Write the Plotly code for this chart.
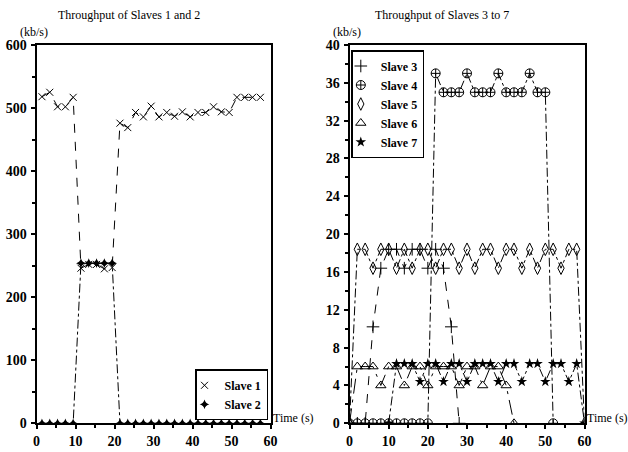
import plotly.graph_objects as go

# ---------------- data ----------------
# Left panel: time (s) and throughput (kb/s)
t_left = [1.4, 3.4, 5.4, 7.4, 9.4, 11.4, 13.4, 15.4, 17.4, 19.4, 21.4, 23.4, 25.4, 27.4, 29.4,
          31.4, 33.4, 35.4, 37.4, 39.4, 41.4, 43.4, 45.4, 47.4, 49.4, 51.4, 53.4, 55.4, 57.4]
slave1 = [518, 525, 502, 502, 517, 246, 252, 252, 245, 247, 476, 469, 493, 486, 503,
          486, 493, 487, 494, 486, 493, 493, 502, 494, 493, 517, 517, 517, 517]
slave2 = [0, 0, 0, 0, 0, 254, 254, 254, 254, 254, 0, 0, 0, 0, 0,
          0, 0, 0, 0, 0, 0, 0, 0, 0, 0, 0, 0, 0, 0]

# Right panel
t_s3 = [0, 2, 4, 6, 8, 10, 12, 14, 16, 18, 20, 22, 24, 26, 28]
slave3 = [0, 0, 0, 10.2, 16.4, 18.4, 18.4, 16.4, 18.4, 18.4, 16.4, 18.4, 16.4, 10.2, 0]

t_s4 = [0, 2, 4, 6, 8, 10, 12, 14, 16, 18, 20, 22, 24, 26, 28, 30, 32, 34, 36, 38, 40,
        42, 44, 46, 48, 50, 52]
slave4 = [0, 0, 0, 0, 0, 0, 0, 0, 0, 0, 0, 37, 35, 35, 35, 37, 35, 35, 35, 37, 35,
          35, 35, 37, 35, 35, 0]

t_s5 = [0, 2, 4, 6, 8, 10, 12, 14, 16, 18, 20, 22, 24, 26, 28, 30, 32, 34, 36, 38, 40,
        42, 44, 46, 48, 50, 52, 54, 56, 58, 60]
slave5 = [0, 18.4, 18.4, 16.4, 18.4, 18.4, 16.4, 18.4, 16.4, 18.4, 18.4, 16.4, 18.4, 18.4,
          16.4, 18.4, 16.4, 18.4, 18.4, 16.4, 18.4, 18.4, 16.4, 18.4, 16.4, 18.4, 18.4,
          16.4, 18.4, 18.4, 0]

t_s6 = [0, 2, 4, 6, 8, 10, 12, 14, 16, 18, 20, 22, 24, 26, 28, 30, 32, 34, 36, 38, 40, 42]
slave6 = [0, 6, 6, 6, 4, 6, 6, 4, 6, 6, 4, 6, 6, 6, 4, 6, 6, 4, 6, 6, 4, 0]

t_s7 = [10, 12, 14, 16, 18, 20, 22, 24, 26, 28, 30, 32, 34, 36, 38, 40, 42, 44, 46, 48,
        50, 52, 54, 56, 58, 60]
slave7 = [0, 6.3, 6.3, 6.3, 4.4, 6.3, 6.3, 4.4, 6.3, 6.3, 4.4, 6.3, 6.3, 6.3, 4.4, 6.3,
          6.3, 4.4, 6.3, 6.3, 4.4, 6.3, 6.3, 4.4, 6.3, 0]

x_ticks = [0, 10, 20, 30, 40, 50, 60]

# ---------------- figure ----------------
W, H = 628, 452
SERIF = "Liberation Serif, Times New Roman, Times, DejaVu Serif, serif"
fig = go.Figure()


def px_x(p):
    return p / W


def px_y(p):
    return 1 - p / H


series_left = [
    ("Slave 1", t_left, slave1, dict(symbol="x-thin-open", size=7, color="black", line=dict(width=1, color="black")), "dash"),
    ("Slave 2", t_left, slave2, dict(symbol="star-diamond", size=7, color="black"), "dashdot"),
]
series_right = [
    ("Slave 3", t_s3, slave3, dict(symbol="cross-thin-open", size=9, color="black", line=dict(width=1, color="black")), "dash"),
    ("Slave 4", t_s4, slave4, dict(symbol="circle-cross-open", size=9, color="black", line=dict(width=1, color="black")), "dashdot"),
    ("Slave 5", t_s5, slave5, dict(symbol="diamond-tall-open", size=9, color="black", line=dict(width=1, color="black")), "dashdot"),
    ("Slave 6", t_s6, slave6, dict(symbol="triangle-up-open", size=9, color="black", line=dict(width=1, color="black")), "longdashdot"),
    ("Slave 7", t_s7, slave7, dict(symbol="star", size=8, color="black"), "dashdot"),
]

for name, xs, ys, mk, dash in series_left:
    fig.add_trace(go.Scatter(x=xs, y=ys, mode="lines+markers", name=name, showlegend=False,
                             line=dict(color="black", width=1, dash=dash), marker=mk,
                             xaxis="x", yaxis="y"))
for name, xs, ys, mk, dash in series_right:
    fig.add_trace(go.Scatter(x=xs, y=ys, mode="lines+markers", name=name, showlegend=False,
                             line=dict(color="black", width=1, dash=dash), marker=mk,
                             xaxis="x2", yaxis="y2"))
# legend-only entries (marker only, like the reference)
for name, xs, ys, mk, dash in series_left:
    fig.add_trace(go.Scatter(x=[None], y=[None], mode="markers", name=name, marker=mk,
                             legend="legend", xaxis="x", yaxis="y"))
for name, xs, ys, mk, dash in series_right:
    fig.add_trace(go.Scatter(x=[None], y=[None], mode="markers", name=name, marker=mk,
                             legend="legend2", xaxis="x2", yaxis="y2"))

tickfont = dict(family=SERIF, size=14, color="black", weight="bold")
common_x = dict(range=[0, 60], tickvals=x_ticks, ticks="outside", ticklen=4, tickwidth=1.5,
                tickcolor="black", showline=True, linewidth=2, linecolor="black", mirror=True,
                showgrid=False, zeroline=False, tickfont=tickfont, automargin=False,
                minor=dict(dtick=5, ticks="outside", ticklen=3, tickcolor="black", showgrid=False))

yb, yt = px_y(423.3), px_y(45)
fig.update_layout(
    template="none",
    width=W, height=H,
    margin=dict(l=0, r=0, t=0, b=0, autoexpand=False),
    paper_bgcolor="white", plot_bgcolor="white",
    showlegend=True,
    xaxis=dict(domain=[px_x(36.5), px_x(270.5)], anchor="y", **common_x),
    xaxis2=dict(domain=[px_x(349.5), px_x(584.5)], anchor="y2", **common_x),
    yaxis=dict(domain=[yb, yt], anchor="x", range=[0, 600], dtick=100, ticks="outside",
               ticklen=4, tickwidth=1.5, tickcolor="black", showline=True, linewidth=2,
               linecolor="black", mirror=True, showgrid=False, zeroline=False, tickfont=tickfont,
               ticklabelstandoff=1, automargin=False,
               minor=dict(dtick=50, ticks="outside", ticklen=3, tickcolor="black", showgrid=False)),
    yaxis2=dict(domain=[yb, yt], anchor="x2", range=[0, 40], dtick=4, ticks="outside",
                ticklen=4, tickwidth=1.5, tickcolor="black", showline=True, linewidth=2,
                linecolor="black", mirror=True, showgrid=False, zeroline=False, tickfont=tickfont,
                ticklabelstandoff=1, automargin=False,
                minor=dict(dtick=2, ticks="outside", ticklen=3, tickcolor="black", showgrid=False)),
    legend=dict(x=px_x(195), y=px_y(369.3), xanchor="left", yanchor="top",
                bgcolor="white", bordercolor="black", borderwidth=1.5, indentation=-12,
                font=dict(family=SERIF, size=12, color="black", weight="bold"),
                itemwidth=30, tracegroupgap=0),
    legend2=dict(x=px_x(351.3), y=px_y(50), xanchor="left", yanchor="top",
                 bgcolor="white", bordercolor="black", borderwidth=1.5, indentation=-12,
                 font=dict(family=SERIF, size=12, color="black", weight="bold"),
                 itemwidth=30, tracegroupgap=0),
)

ann_font = dict(family=SERIF, size=12, color="black")
annotations = [
    dict(text="Throughput of Slaves 1 and 2", x=px_x(129.3), y=px_y(15)),
    dict(text="Throughput of Slaves 3 to 7", x=px_x(441.5), y=px_y(15)),
    dict(text="(kb/s)", x=px_x(33.8), y=px_y(32)),
    dict(text="(kb/s)", x=px_x(347.3), y=px_y(32)),
    dict(text="Time (s)", x=px_x(293.5), y=px_y(418)),
    dict(text="Time (s)", x=px_x(607), y=px_y(418)),
]
for a in annotations:
    fig.add_annotation(xref="paper", yref="paper", showarrow=False, font=ann_font,
                       xanchor="center", yanchor="middle", **a)

fig.write_html(
    "out.html",
    config={"displayModeBar": False},
    post_script="document.body.style.margin='0px'; document.body.style.overflow='hidden';",
)
